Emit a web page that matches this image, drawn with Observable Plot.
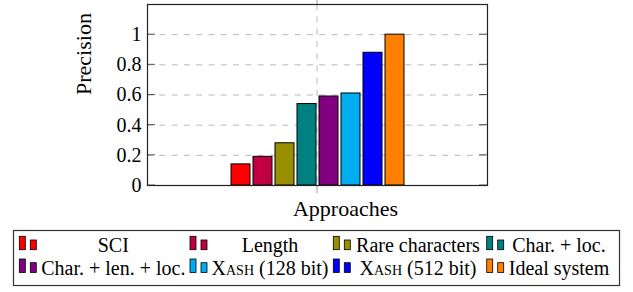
<!DOCTYPE html>
<html>
<head>
<meta charset="utf-8">
<script src="https://cdn.jsdelivr.net/npm/d3@7"></script>
<script src="https://cdn.jsdelivr.net/npm/@observablehq/plot@0.6"></script>
<style>
  html, body { margin: 0; padding: 0; background: #fff; }
  #chart svg, #legend svg { display: block; }
</style>
</head>
<body>
<div id="chart"></div>
<div id="legend"></div>
<script>
// ---- data ----
const categories = ["SCI", "Length", "Rare characters", "Char. + loc.", "Char. + len. + loc.", "Xash (128 bit)", "Xash (512 bit)", "Ideal system"];
const precision = [0.14, 0.19, 0.28, 0.54, 0.59, 0.61, 0.88, 1.0];
const colors = ["#ff0000", "#c00040", "#998f00", "#008080", "#800080", "#00aeef", "#0000ff", "#ff8000"];
const yTicks = [0, 0.2, 0.4, 0.6, 0.8, 1];
const yLabel = "Precision";
const xLabel = "Approaches";

const data = categories.map((c, i) => ({category: c, precision: precision[i]}));
const FONT = "'Liberation Serif', 'DejaVu Serif', serif";

// decorations: dashed center grid line, x tick, inner y ticks
function decor(index, scales, values, dims) {
  const g = d3.create("svg:g");
  const L = dims.marginLeft, R = dims.width - dims.marginRight;
  const T = dims.marginTop, B = dims.height - dims.marginBottom;
  const cx = (L + R) / 2;
  g.append("line").attr("x1", cx).attr("x2", cx).attr("y1", T).attr("y2", B)
    .attr("stroke", "#b8b8b8").attr("stroke-dasharray", "6,6.3");
  g.append("line").attr("x1", cx).attr("x2", cx).attr("y1", B).attr("y2", B + 8)
    .attr("stroke", "#999");
  g.append("line").attr("x1", cx).attr("x2", cx).attr("y1", T).attr("y2", T - 8)
    .attr("stroke", "#999");
  for (const t of yTicks) {
    const yy = scales.y(t);
    g.append("line").attr("x1", L).attr("x2", L + 8).attr("y1", yy).attr("y2", yy).attr("stroke", "#555");
    g.append("line").attr("x1", R - 8).attr("x2", R).attr("y1", yy).attr("y2", yy).attr("stroke", "#555");
  }
  return g.node();
}

const chart = Plot.plot({
  width: 633,
  height: 229,
  marginTop: 4,
  marginBottom: 44,
  marginLeft: 147,
  marginRight: 146,
  style: {fontFamily: FONT, fontSize: "20px", color: "#000", background: "#fff", overflow: "visible"},
  x: {type: "band", domain: categories, paddingInner: 0.15, paddingOuter: 3.67, axis: null},
  y: {domain: [0, 1.2], axis: null},
  color: {domain: categories, range: colors},
  marks: [
    Plot.ruleY(yTicks.filter(d => d > 0), {y: d => d, stroke: "#b8b8b8", strokeDasharray: "6,6.3"}),
    decor,
    Plot.barY(data, {x: "category", y: "precision", fill: "category", stroke: "#000", strokeWidth: 1}),
    Plot.frame({stroke: "#222", strokeWidth: 1.2}),
    Plot.text(yTicks, {y: d => d, text: d => d3.format("~g")(d), frameAnchor: "left", textAnchor: "end", dx: -6, fontSize: 20, fill: "#000"}),
    Plot.text([yLabel], {text: d => d, frameAnchor: "left", dx: -64, rotate: -90, fontSize: 22, fill: "#000"}),
    Plot.text([xLabel], {text: d => d, frameAnchor: "bottom", lineAnchor: "middle", dx: 28, dy: 23, fontSize: 22, fill: "#000"})
  ]
});
document.getElementById("chart").append(chart);

// ---- legend (below the plot) ----
const swatchX = [19.3, 190, 333.3, 486.7];
const textCX = [113.3, 270, 418, 559];
const rowBottom = [20.7, 43.4];
const rowBase = [23, 45.7];

const lg = d3.create("svg").attr("width", 633).attr("height", 63)
  .style("font-family", FONT).style("font-size", "20px");
lg.append("rect").attr("x", 13.5).attr("y", 1.5).attr("width", 606).attr("height", 55)
  .attr("fill", "#fff").attr("stroke", "#333").attr("stroke-width", 1.2);

categories.forEach((c, i) => {
  const col = i % 4, row = Math.floor(i / 4);
  const sx = swatchX[col], by = rowBottom[row];
  lg.append("rect").attr("x", sx).attr("y", by - 13.4).attr("width", 6).attr("height", 13.4)
    .attr("fill", colors[i]).attr("stroke", "#000").attr("stroke-width", 0.8);
  lg.append("rect").attr("x", sx + 11).attr("y", by - 9.7).attr("width", 6).attr("height", 9.7)
    .attr("fill", colors[i]).attr("stroke", "#000").attr("stroke-width", 0.8);
  const t = lg.append("text").attr("x", textCX[col]).attr("y", rowBase[row])
    .attr("text-anchor", "middle").attr("fill", "#000");
  const m = c.match(/^(Xash)(.*)$/);
  if (m) {
    t.append("tspan").style("font-variant", "small-caps").text(m[1]);
    t.append("tspan").text(m[2]);
  } else {
    t.text(c);
  }
});
document.getElementById("legend").append(lg.node());
</script>
</body>
</html>
